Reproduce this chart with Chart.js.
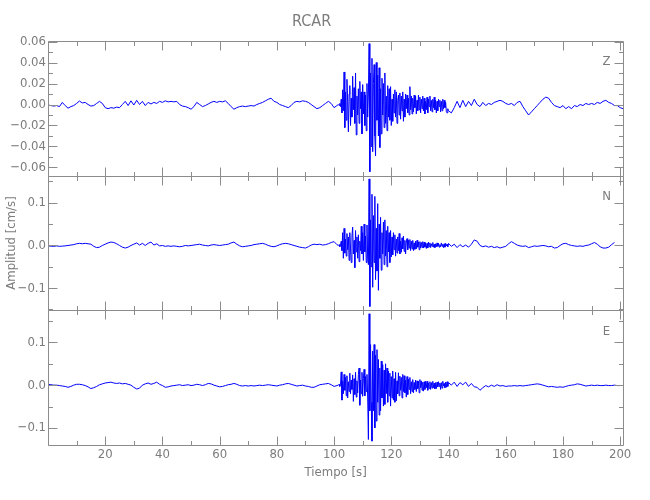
<!DOCTYPE html>
<html lang="es">
<head>
<meta charset="UTF-8">
<title>RCAR</title>
<script src="https://cdn.jsdelivr.net/npm/chart.js"></script>
<style>
  html, body { margin: 0; padding: 0; background: #fff; }
</style>
</head>
<body>
<canvas id="sismo" width="650" height="500"></canvas>
<script>
// amplitudes in 10^-3 cm/s
// sampling: every 1 s up to 101 s, every 0.25 s from 101.5 to 140 s, every 1 s after
const unit = 0.001;
const preStart = 0, preStep = 1;
const strongStart = 101.5, strongStep = 0.25;
const postStart = 141, postStep = 1;

const zPre = [
  -0.5, -1, -1.5, -1, -2, 2, -1, -3.5, -2, -1,
  1, 3.3, 1.5, 2, 0, -1.5, -1, 1, 3, 1,
  -3, -4, -3, -3.5, -2.5, -3, 0, 3, -1, 3.5,
  -0.5, 4, 0, 3, -1, 2, 0.5, 2, 1, 3,
  2, 3.5, 2.5, 3, 2.5, 3, 0, -1.5, -2, -3,
  -4.5, -2, 2, 0, -2, -1, 0.5, 2, 3, 2,
  3, 2.5, 3.5, 1, -2, -4.5, -3, -2, -1.5, -2,
  -1.5, -1, -1.5, 0, 1, 2, 3.5, 5, 6, 3,
  2, 0, -1, -2, -3, -1, 2, 3, 2.5, 3.5,
  3, 2, 0, -2, -4, -3, -1, 1, 3, 1,
  -3, -1
];
const zStrong = [
  0, -1, 1, -2,     5, -8, 14, -6,    31, -22, 12, -15,  24, 3, -26, 10,
  18, -20, 6, -12,  27, -5, 16, -18,  30, -29, 8, -10,   15, -18, 22, -4,
  12, -28, 19, -9,  12, -20, 9, -25,  20, -12, 10, 58,   -64, 30, -40, 44,
  -45, 20, 38, -30, -49, 40, -15, 28, -30, 35, -41, 15,  -28, 25, -10, 20,
  -22, 30, -18, 8,  -25, 18, -12, 15, -15, 17, -20, 5,   -16, 10, -8, 14,
  -12, 12, -18, 4,  9, -10, 11, -14,  8, -6, 12, -16,    5, -12, 10, -4,
  9, -8, 6, -10,    17, -5, 8, -9,    6, -7, 9, -3,      8, -9, 4, -6,
  9, -5, 7, -8,     5, -4, 8, -6,     6, -9, 3, -5,      7, -8, 5, -2,
  8, -6, 4, -7,     5, -3, 7, -5,     4, -8, 3, -6,      5, -2, 4, -7,
  3, -6, 5, -4,     4, -3, 2, -7,     -8, -4, -6
];
const zPost = [
  -8, -3, 3, -3, 4, -2, 3, -1, 5, 0,
  -2, 2, -1, 1, 0, 2, 3, 4, 3, 1,
  0, 1, -1, 2, 3, -2, -6, -10, -7, -4,
  -1, 2, 5, 7, 6, 2, -1, -2, -3, -1,
  -4, -2, -4, -1, -2, 0, -1, 1, 0, 1,
  0, 2, 1, 3, 4, 2, 1, -1, -1, -3,
  -4
];

const nPre = [
  -1, -1.5, -2, -1, -2, -1.5, -1, 0, 1, 2,
  4, 5, 4, 5, 4, 3, -2, -5, -4, 0,
  3, 6, 8, 7, 4, 0, -4, -6, -4, 0,
  3, 6, 1, 5, 0, 5, 8, 1, 4, -1,
  0, -2, -1, -2, -1, -2, -3, -2, 0, -1,
  0, 1, 2, 3, 1, 0, -1, 1, 2, 1,
  0, 1, 2, 3, 6, 8, 3, -1, -3, -2,
  -1, 0, 2, 3, 4, 5, 3, 0, -2, -3,
  -1, 2, 4, 5, 4, 2, 0, -2, -4, -5,
  -6, -3, 1, 3, 2, 3, 1, 2, 4, 7,
  9, 2
];
const nStrong = [
  0, 2, -3, 1,       10, -12, 30, -30,  40, -18, 15, -25,   28, -10, 20, -35,
  30, -8, -40, 22,   43, -20, 12, -52,  35, -15, 20, -30,   25, -38, 10, -12,
  45, -20, 30, -35,  50, -15, 22, -40,  48, -30, -45, 156,  -143, 60, -50, 120,
  -98, 70, -40, 115, -80, 40, -60, 98,  -105, 50, -30, 66,  -58, 30, -20, 55,
  -45, 60, -25, 35,  -50, 45, -15, 30,  -40, 35, -27, 20,   -22, 30, -10, 25,
  -25, 15, -18, 20,  -12, 28, -20, 10,  -16, 18, -8, 22,    -14, 12, -20, 8,
  16, -10, 12, -6,   14, -12, 10, -8,   12, -12, 6, -9,     10, -8, 12, -4,
  8, -10, 9, -6,     7, -5, 9, -6,      8, -4, 6, -7,       5, -6, 8, -3,
  6, -5, 4, -2,      7, -4, 3, -5,      4, -3, 6, -2,       5, -4, 2, -3,
  6, -2, 3, -5,      4, -4, 5, -1,      3, -3, 5
];
const nPost = [
  -2, 3, -5, 2, -3, 1, -4, 3, 13, 10,
  0, -3, -1, -4, -2, -5, -3, -6, -4, -2,
  4, 9, 5, 1, -1, -2, -1, -5, -3, -1,
  -2, -1, 0, -1, -3, -2, -6, -5, 0, 4,
  5, 2, 0, -1, -2, -1, -2, 0, 1, 4,
  7, 3, -3, -6, -6, -4, 2, 7, null, null,
  null
];

const ePre = [
  2, 1, 0, 0, -1, -2, -3, -5, -3, 0,
  2, 2, 1, -1, -4, -8, -6, -3, 1, 3,
  5, 6, 7, 5, 4, 5, 3, 4, 2, 0,
  -5, -9, -7, 0, 3, 5, 2, 4, 7, 2,
  -1, -5, -4, -2, -1, 0, 1, -1, 0, 1,
  -1, 0, 2, 1, -1, 1, 4, 3, 0, -2,
  -4, -3, -1, 1, 2, 4, 2, -1, -2, -1,
  -2, -1, -2, -1, 0, -1, 0, 1, 0, -1,
  -2, 0, 1, 3, 4, 2, 0, -2, -1, 0,
  -2, -3, -5, -5, -2, 1, 2, 3, 4, 1,
  -3, -1
];
const eStrong = [
  0, 2, -3, 1,       31, -35, 10, -20,  25, -12, 18, -25,   22, -30, 8, -15,
  28, -20, 12, -10,  24, -38, 15, -22,  30, -28, 10, -18,   25, 40, -47, 12,
  -20, 30, -26, 15,  37, -25, 20, -15,  25, -30, -127, 167, -60, 95, -40, -131,
  80, -60, 95, -100, 70, -84, 83, -40,  60, -70, 40, -60,   56, -30, 48, -49,
  35, -45, 50, -20,  40, -40, 33, -25,  28, -49, 20, -30,   33, -35, 15, -40,
  30, -37, 10, -20,  29, -25, 21, -12,  18, -30, 25, -15,   22, -18, 12, -28,
  20, -22, 14, -10,  18, -20, 8, -15,   13, -18, 6, -10,    12, -15, 10, -8,
  9, -18, 13, -6,    10, -12, 7, -14,   8, -10, 9, -6,      9, -12, 5, -8,
  8, -10, 6, -7,     9, -6, 5, -9,      6, -8, 7, -4,       8, -3, 5, -10,
  6, -7, 9, -2,      4, -6, 7, -5,      8, -3, 6
];
const ePost = [
  0, 7, -3, 6, 1, 7, -3, 4, -4, -5,
  -12, -6, -1, -4, 0, -3, 1, -2, -1, -3,
  -2, -2, -1, -2, -1, -2, -1, 0, 1, 2,
  3, 2, 0, -2, -4, -3, -4, -5, -4, -5,
  -3, -1, 0, 1, 3, 2, 0, -2, -1, 0,
  -1, 0, -1, -1, 0, -1, -1, 0, -1, -1,
  null
];

const FONT = "'Liberation Sans Narrow', 'DejaVu Sans Condensed', 'Arial Narrow', sans-serif";
const textGray = '#7c7c7c';
const lineGray = '#8c8c8c';
const traceBlue = '#0000ff';
const majorLen = 9, minorLen = 4.5;
const xMajor = 20, xMinor = 10;

const panels = [
  {id: 'yZ', label: 'Z', min: -0.0678, max: 0.0605, major: 0.02, minor: 0.01, digits: 2, data: [zPre, zStrong, zPost]},
  {id: 'yN', label: 'N', min: -0.152, max: 0.1636, major: 0.1, minor: 0.05, digits: 1, data: [nPre, nStrong, nPost]},
  {id: 'yE', label: 'E', min: -0.140, max: 0.175, major: 0.1, minor: 0.05, digits: 1, data: [ePre, eStrong, ePost]}
];

function samples(pre, strong, post) {
  const pts = [];
  const add = (arr, t0, dt) => arr.forEach((v, i) => {
    pts.push({x: t0 + i * dt, y: v === null ? null : v * unit});
  });
  add(pre, preStart, preStep);
  add(strong, strongStart, strongStep);
  add(post, postStart, postStep);
  return pts;
}

function fmt(v, digits) {
  if (Math.abs(v) < 1e-9) return (0).toFixed(digits);
  return (v < 0 ? '\u2212' : '') + Math.abs(v).toFixed(digits);
}

// boxes with inward ticks on all four sides of every panel
const frames = {
  id: 'frames',
  afterDatasetsDraw(chart) {
    const {ctx, chartArea: area, scales} = chart;
    const xs = scales.x;
    const left = Math.round(area.left) + 0.5, right = Math.round(area.right) + 0.5;
    ctx.save();
    ctx.strokeStyle = lineGray;
    ctx.lineWidth = 1;
    ctx.beginPath();
    panels.forEach(p => {
      const ys = scales[p.id];
      const top = Math.round(ys.top) + 0.5, bottom = Math.round(ys.bottom) + 0.5;
      ctx.rect(left, top, right - left, bottom - top);
      for (let v = 0; v <= xs.max + 1e-9; v += xMinor) {
        const px = Math.round(xs.getPixelForValue(v)) + 0.5;
        const len = (v % xMajor === 0) ? majorLen : minorLen;
        ctx.moveTo(px, top); ctx.lineTo(px, top + len);
        ctx.moveTo(px, bottom); ctx.lineTo(px, bottom - len);
      }
      const ratio = Math.round(p.major / p.minor);
      const first = Math.ceil(p.min / p.minor - 1e-6), last = Math.floor(p.max / p.minor + 1e-6);
      for (let k = first; k <= last; k++) {
        const py = Math.round(ys.getPixelForValue(k * p.minor)) + 0.5;
        const len = (k % ratio === 0) ? majorLen : minorLen;
        ctx.moveTo(left, py); ctx.lineTo(left + len, py);
        ctx.moveTo(right, py); ctx.lineTo(right - len, py);
      }
    });
    ctx.stroke();
    ctx.fillStyle = textGray;
    ctx.font = '13px ' + FONT;
    ctx.textAlign = 'center';
    ctx.textBaseline = 'middle';
    panels.forEach(p => ctx.fillText(p.label, right - 17, scales[p.id].top + 21));
    ctx.restore();
  }
};

const scales = {
  x: {
    type: 'linear', position: 'bottom', min: 0, max: 201.1,
    grid: {display: false, drawTicks: false},
    border: {display: false},
    ticks: {
      stepSize: xMajor, includeBounds: false, autoSkip: false, maxRotation: 0,
      padding: 2, color: textGray, font: {family: FONT, size: 13},
      callback: v => v === 0 ? '' : String(v)
    },
    title: {display: true, text: 'Tiempo [s]', color: textGray, font: {family: FONT, size: 13}, padding: {top: 0, bottom: 20}},
    afterFit: s => { s.height = 55; }
  }
};
// last defined left axis goes on top of the stack
panels.slice().reverse().forEach(p => {
  scales[p.id] = {
    type: 'linear', position: 'left', stack: 'traces', stackWeight: 1,
    min: p.min, max: p.max,
    grid: {display: false, drawTicks: false},
    border: {display: false},
    ticks: {
      stepSize: p.major, includeBounds: false, autoSkip: false,
      padding: 2, color: textGray, font: {family: FONT, size: 13},
      callback: v => fmt(v, p.digits)
    },
    title: {display: p.id === 'yN', text: 'Amplitud [cm/s]', color: textGray, font: {family: FONT, size: 13}, padding: {top: 4, bottom: 0}},
    afterFit: s => { s.width = 48; }
  };
});

new Chart(document.getElementById('sismo'), {
  type: 'line',
  data: {
    datasets: panels.map(p => ({
      label: p.label,
      data: samples(...p.data),
      yAxisID: p.id,
      borderColor: traceBlue,
      borderWidth: 1,
      pointRadius: 0,
      tension: 0,
      spanGaps: false
    }))
  },
  options: {
    responsive: false,
    devicePixelRatio: 1,
    animation: false,
    events: [],
    layout: {padding: {left: 0, right: 26.7, top: 0, bottom: 0}},
    plugins: {
      legend: {display: false},
      tooltip: {enabled: false},
      title: {display: true, text: 'RCAR', color: textGray, font: {family: FONT, size: 16, weight: 'normal'}, padding: {top: 12.4, bottom: 9.4}}
    },
    scales: scales
  },
  plugins: [frames]
});
</script>
</body>
</html>
